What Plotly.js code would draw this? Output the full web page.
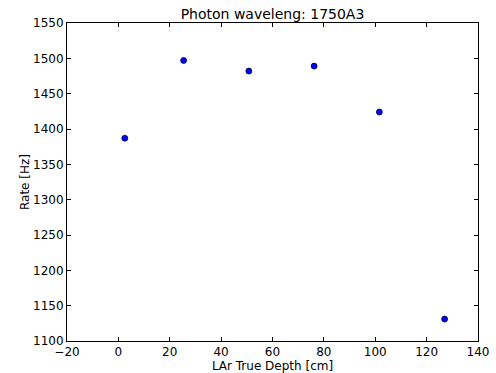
<!DOCTYPE html>
<html>
<head>
<meta charset="utf-8">
<script src="https://cdn.plot.ly/plotly-3.0.1.min.js"></script>
<style>html,body{margin:0;padding:0;background:#fff}#chart{width:496px;height:373px}</style>
</head>
<body>
<div id="chart"></div>
<script>
const depthCm = [2.5, 25.4, 50.8, 76.2, 101.6, 127.0];
const rateHz = [1387, 1497, 1482, 1489, 1424, 1131];
const xTicks = [-20, 0, 20, 40, 60, 80, 100, 120, 140];
const yTicks = [1100, 1150, 1200, 1250, 1300, 1350, 1400, 1450, 1500, 1550];

const font = {family: 'DejaVu Sans, sans-serif', size: 12, color: '#000'};

Plotly.newPlot('chart', [{
  x: depthCm,
  y: rateHz,
  type: 'scatter',
  mode: 'markers',
  marker: {color: '#0000ff', size: 6, line: {color: '#000', width: 0.7}},
  hoverinfo: 'skip'
}], {
  width: 496, height: 373,
  margin: {l: 67, r: 18, t: 23, b: 32, pad: 0},
  paper_bgcolor: '#fff', plot_bgcolor: '#fff',
  font: font,
  showlegend: false,
  title: {text: 'Photon waveleng: 1750A3', font: {family: font.family, size: 14, color: '#000'},
          x: 0.5, xref: 'paper', xanchor: 'center', y: 1, yref: 'paper', yanchor: 'bottom', pad: {b: 4}},
  xaxis: {
    range: [-20, 140], tickvals: xTicks, ticktext: xTicks.map(v => v < 0 ? '\u2212' + Math.abs(v) : String(v)),
    ticks: 'inside', ticklen: 4, tickcolor: '#000', tickwidth: 1, mirror: 'ticks',
    showline: true, linecolor: '#000', linewidth: 1, showgrid: false, zeroline: false,
    tickfont: font,
    title: {text: 'LAr True Depth [cm]', font: font, standoff: 1}
  },
  yaxis: {
    range: [1100, 1550], tickvals: yTicks,
    ticks: 'inside', ticklen: 4, tickcolor: '#000', tickwidth: 1, mirror: 'ticks',
    showline: true, linecolor: '#000', linewidth: 1, showgrid: false, zeroline: false,
    tickfont: font,
    title: {text: 'Rate [Hz]', font: font, standoff: 0}
  }
}, {staticPlot: true, displayModeBar: false});
</script>
</body>
</html>
